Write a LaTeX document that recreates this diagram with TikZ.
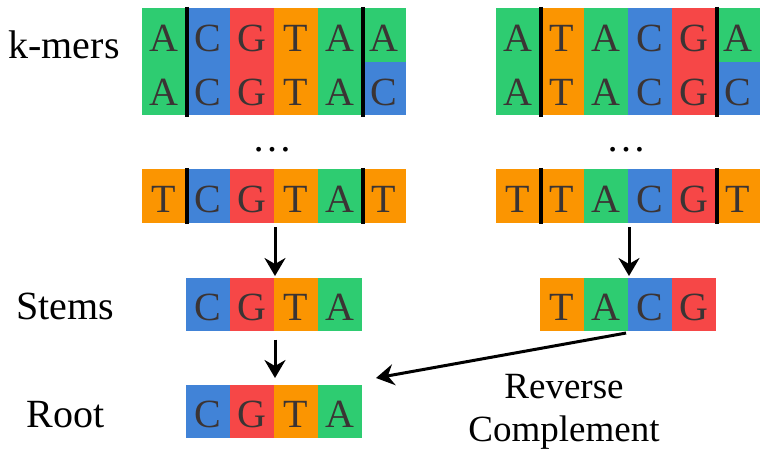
\documentclass[tikz,border=0pt]{standalone}
\usepackage{fontspec}
\setmainfont{Liberation Serif}
\usetikzlibrary{arrows.meta}
\definecolor{cA}{HTML}{2ECC71}
\definecolor{cC}{HTML}{4183D7}
\definecolor{cG}{HTML}{F64747}
\definecolor{cT}{HTML}{FB9501}
\definecolor{letter}{HTML}{3B3434}
\begin{document}
\begin{tikzpicture}[x=1pt,y=-1pt,line join=round,>={Stealth[length=18pt,width=21pt,inset=6pt]},line width=3pt]
	\tikzset{cell/.style={anchor=north west,minimum width=44pt,minimum height=53.5pt,inner sep=0pt,text height=33pt,text depth=0pt,text=letter,font=\fontsize{40}{48}\selectfont},
		bar/.style={line width=4pt},
		lab/.style={anchor=base west,inner sep=0pt,font=\fontsize{40}{48}\selectfont}}
	\useasboundingbox (0,0) rectangle (765,454);
	\foreach \b [count=\i] in {A,C,G,T,A,A}
	\node[cell,fill=c\b] (la\i) at ({140+44*(\i-1)},7) {\b};
	\foreach \b [count=\i] in {A,C,G,T,A,C}
	\node[cell,fill=c\b] (lb\i) at ({140+44*(\i-1)},60.5) {\b};
	\foreach \b [count=\i] in {T,C,G,T,A,T}
	\node[cell,fill=c\b] (lc\i) at ({140+44*(\i-1)},168) {\b};
	\foreach \b [count=\i] in {A,T,A,C,G,A}
	\node[cell,fill=c\b] (ra\i) at ({494+44*(\i-1)},7) {\b};
	\foreach \b [count=\i] in {A,T,A,C,G,C}
	\node[cell,fill=c\b] (rb\i) at ({494+44*(\i-1)},60.5) {\b};
	\foreach \b [count=\i] in {T,T,A,C,G,T}
	\node[cell,fill=c\b] (rc\i) at ({494+44*(\i-1)},168) {\b};
	\foreach \b [count=\i from 2] in {C,G,T,A}
	\node[cell,fill=c\b] (ls\i) at ({140+44*(\i-1)},276) {\b};
	\foreach \b [count=\i from 2] in {T,A,C,G}
	\node[cell,fill=c\b] (rs\i) at ({494+44*(\i-1)},276) {\b};
	\foreach \b [count=\i from 2] in {C,G,T,A}
	\node[cell,fill=c\b] (rt\i) at ({140+44*(\i-1)},383) {\b};
	\foreach \s in {l,r}
	\foreach \k in {1,5} {
		\draw[bar] (\s a\k.north east)--(\s b\k.south east);
		\draw[bar] (\s c\k.north east)--(\s c\k.south east);
	}
	\node[font=\fontsize{40}{48}\selectfont] (ldots) at (272,150) {…};
	\node[font=\fontsize{40}{48}\selectfont] (rdots) at (626,150) {…};
	\node[lab] (kmers) at (7,59) {k-mers};
	\node[lab] (stems) at (15,319) {Stems};
	\node[lab] (root) at (25,427) {Root};
	\node[anchor=north,align=center,inner sep=0pt,font=\fontsize{37}{43}\selectfont] (rev) at (564,372.5) {Reverse\\Complement};
	\draw[->,shorten <=3pt] (lc3.south east)--(ls3.north east);
	\draw[->,shorten <=3pt] (rc3.south east)--(rs3.north east);
	\draw[->,shorten <=7pt,shorten >=5pt] (ls3.south east)--(rt3.north east);
	\draw[->,shorten <=3pt] (rs3.south east)--([shift={(13,-5)}]rt5.north east);
\end{tikzpicture}
\end{document}
